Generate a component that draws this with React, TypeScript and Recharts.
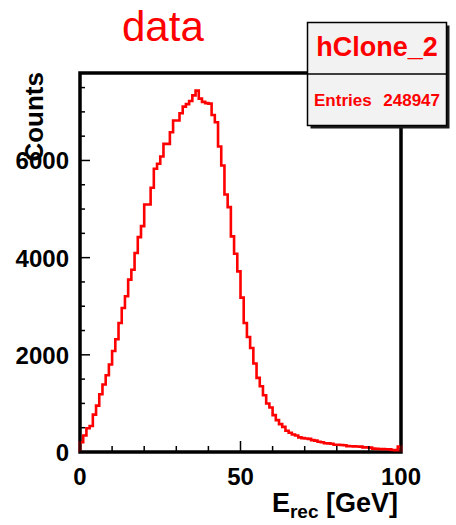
import { LineChart, Line, XAxis, YAxis, ReferenceArea } from 'recharts';

// counts per 1 GeV bin, E_rec 0..100
const counts = [
  200, 340, 490, 535, 770, 955, 1190, 1389, 1580, 1800,
  2080, 2320, 2655, 2963, 3204, 3547, 3752, 4094, 4422, 4649,
  5094, 5094, 5438, 5828, 5931, 6081, 6342, 6342, 6580, 6821,
  6821, 6971, 7108, 7160, 7225, 7340, 7437, 7273, 7205, 7180,
  7170, 6937, 6786, 6286, 5896, 5300, 5039, 4437, 4081, 3718,
  3177, 2655, 2368, 2141, 1821, 1525, 1354, 1169, 999, 917,
  758, 656, 574, 518, 436, 395, 360, 340, 300, 285,
  279, 270, 245, 235, 210, 200, 180, 177, 170, 150,
  148, 145, 140, 120, 118, 115, 112, 110, 95, 95,
  90, 70, 65, 62, 60, 58, 55, 40, 38, 110,
];
const binWidth = 1;
const xMax = 100;
const yMax = 7800;

const xTicks = [0, 10, 20, 30, 40, 50, 60, 70, 80, 90, 100];
const xLabels = [0, 50, 100];
const yTicks = [0, 500, 1000, 1500, 2000, 2500, 3000, 3500, 4000, 4500, 5000, 5500, 6000, 6500, 7000, 7500];
const yLabels = [0, 2000, 4000, 6000];

const histName = 'hClone_2';
const entries = 248947;

// step line: start from zero at left edge, drop back to zero at right edge
const data = [
  { e: 0, n: 0 },
  ...counts.map((n, i) => ({ e: i * binWidth, n })),
  { e: xMax, n: counts[counts.length - 1] },
  { e: xMax, n: 0 },
];

const font = '"Liberation Sans", Arial, sans-serif';
const red = '#ff0000';

const YTick = ({ x, y, payload }: any) => {
  const major = yLabels.includes(payload.value);
  return (
    <g>
      <line x1={x} y1={y} x2={x + (major ? 10 : 5)} y2={y} stroke="#000" strokeWidth={1.5} />
      {major && (
        <text x={x - 11} y={y + 9} textAnchor="end" fontFamily={font} fontWeight="bold" fontSize={24} fill="#000">
          {payload.value}
        </text>
      )}
    </g>
  );
};

const XTick = ({ x, y, payload }: any) => {
  const major = xLabels.includes(payload.value);
  return (
    <g>
      <line x1={x} y1={y} x2={x} y2={y - (major ? 11 : 6)} stroke="#000" strokeWidth={1.5} />
      {major && (
        <text x={x} y={y + 33} textAnchor="middle" fontFamily={font} fontWeight="bold" fontSize={24} fill="#000">
          {payload.value}
        </text>
      )}
    </g>
  );
};

export default function App() {
  return (
    <div style={{ position: 'absolute', left: 0, top: 0, width: 456, height: 525, background: '#fff' }}>
      <LineChart width={456} height={525} data={data} margin={{ top: 73, right: 55, bottom: 43, left: 0 }}>
        <XAxis
          dataKey="e"
          type="number"
          domain={[0, xMax]}
          ticks={xTicks}
          tick={<XTick />}
          tickSize={0}
          tickMargin={0}
          tickLine={false}
          axisLine={false}
          height={30}
        />
        <YAxis
          type="number"
          domain={[0, yMax]}
          ticks={yTicks}
          tick={<YTick />}
          tickSize={0}
          tickMargin={0}
          tickLine={false}
          axisLine={false}
          width={80}
        />
        <Line
          type="stepAfter"
          dataKey="n"
          stroke={red}
          strokeWidth={2.6}
          dot={false}
          isAnimationActive={false}
        />
        <ReferenceArea x1={0} x2={xMax} y1={0} y2={yMax} fill="none" stroke="#000" strokeWidth={3.5} />
      </LineChart>
      <svg width={456} height={525} style={{ position: 'absolute', left: 0, top: 0, pointerEvents: 'none' }}>
        <text x={122} y={41} fontFamily={font} fontSize={42} fill={red}>data</text>
        <text transform="translate(43,72) rotate(-90)" textAnchor="end" fontFamily={font} fontWeight="bold" fontSize={26} fill="#000">
          Counts
        </text>
        <text x={398} y={512} textAnchor="end" fontFamily={font} fontWeight="bold" fontSize={27} fill="#000">
          E<tspan fontSize={19} dy={6}>rec</tspan>
          <tspan dy={-6}> [GeV]</tspan>
        </text>
        <rect x={310.5} y={25.5} width={139} height={103} fill="#1a1a1a" />
        <rect x={307.5} y={22.5} width={139} height={103} fill="#f2f2f2" stroke="#000" strokeWidth={1.5} />
        <line x1={307.5} y1={74} x2={446.5} y2={74} stroke="#000" strokeWidth={1.5} />
        <text x={377} y={56} textAnchor="middle" fontFamily={font} fontWeight="bold" fontSize={27} fill={red}>
          {histName}
        </text>
        <text x={314} y={106} fontFamily={font} fontWeight="bold" fontSize={17} fill={red}>Entries</text>
        <text x={440} y={106} textAnchor="end" fontFamily={font} fontWeight="bold" fontSize={17} fill={red}>
          {entries}
        </text>
      </svg>
    </div>
  );
}
